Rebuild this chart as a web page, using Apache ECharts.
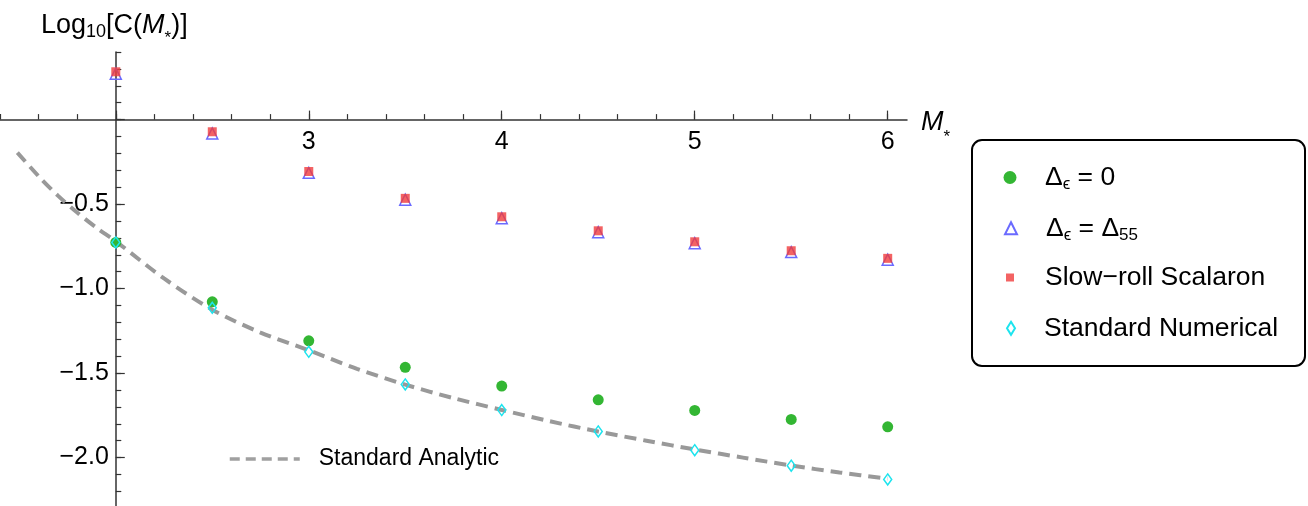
<!DOCTYPE html>
<html><head><meta charset="utf-8">
<script src="https://cdn.jsdelivr.net/npm/echarts@6/dist/echarts.min.js"></script>
<style>html,body{margin:0;padding:0;background:#fff}#c{width:1308px;height:506px}</style>
</head><body><div id="c"></div>
<script>
// ---- data ----
const mValues = [2, 2.5, 3, 3.5, 4, 4.5, 5, 5.5, 6];
const deltaZero = [-0.727, -1.078, -1.309, -1.466, -1.577, -1.658, -1.721, -1.774, -1.818];
const deltaFiftyFive = [0.272, -0.082, -0.315, -0.474, -0.583, -0.666, -0.731, -0.784, -0.829];
const slowRoll = [0.283, -0.072, -0.307, -0.466, -0.575, -0.658, -0.723, -0.776, -0.821];
const standardNumerical = [-0.727, -1.114, -1.374, -1.567, -1.719, -1.845, -1.956, -2.048, -2.129];
const analyticX = [1.49, 1.6, 1.7, 1.8, 1.9, 2.0, 2.25, 2.5, 2.75, 3.0, 3.25, 3.5, 3.75, 4.0, 4.25, 4.5, 4.75, 5.0, 5.25, 5.5, 5.75, 6.0];
const analyticY = [-0.195, -0.335, -0.45, -0.55, -0.64, -0.72, -0.94, -1.125, -1.26, -1.365, -1.475, -1.568, -1.648, -1.718, -1.785, -1.846, -1.90, -1.952, -2.0, -2.047, -2.088, -2.124];
const xTickLabels = [3, 4, 5, 6];
const yTickLabels = [-0.5, -1.0, -1.5, -2.0];
const seriesNames = ['d0', 'd55', 'Slow\u2212roll Scalaron', 'Standard Numerical'];
const analyticName = 'Standard Analytic';

// ---- layout ----
const FONT = '"Liberation Sans", Arial, Helvetica, sans-serif';
const X_MIN = 1.4, X_MAX = 6.1, Y_MIN = -2.3, Y_MAX = 0.4;
const G_LEFT = 0, G_TOP = 52, G_W = 907, G_H = 456.3;
const PXX = G_W / (X_MAX - X_MIN), PXY = G_H / (Y_MAX - Y_MIN);
const AX_X = G_LEFT + (2 - X_MIN) * PXX;   // y-axis crosses at M=2
const AX_Y = G_TOP + Y_MAX * PXY;          // x-axis at 0
const AXC = '#333';
const NB = 'none';

const pairs = (xs, ys) => xs.map((x, i) => [x, ys[i]]);
const fmtY = v => yTickLabels.some(t => Math.abs(t - v) < 1e-6) ? v.toFixed(1).replace('-', '\u2212') : '';
const fmtX = v => xTickLabels.some(t => Math.abs(t - v) < 1e-6) ? String(Math.round(v)) : '';

const legendRich = {
  t: {fontSize: 26.5, fontFamily: FONT, color: '#000', lineHeight: 32},
  s: {fontSize: 17, fontFamily: FONT, color: '#000', lineHeight: 18, padding: [14, 0, 0, 0]}
};
const legendFmt = n => n === 'd0' ? '{t|\u0394}{s|\u03f5}{t| = 0}'
  : n === 'd55' ? '{t|\u0394}{s|\u03f5}{t| = \u0394}{s|55}' : '{t|' + n + '}';
// one legend entry per row: [name, icon width, icon height, icon centre y]
const legendRows = [[seriesNames[0], 13, 13, 177.5], [seriesNames[1], 12, 12, 228.3],
                    [seriesNames[2], 8, 8, 277.5], [seriesNames[3], 8, 13, 328.3]];
const ICON_CX = 1010, TEXT_X = 1045;

const legends = legendRows.map(([name, w, h, cy]) => ({
  data: [name], orient: 'horizontal', padding: 0, selectedMode: false,
  left: ICON_CX - w / 2, top: cy - 16, itemWidth: w, itemHeight: h,
  formatter: legendFmt,
  textStyle: {fontSize: 26.5, fontFamily: FONT, color: '#000', lineHeight: 32,
              padding: [0, 0, 0, TEXT_X - ICON_CX - w / 2 - 5 - (h > 11 && w < 11 ? 2 : 0)], rich: legendRich}
}));
legends.push({data: [analyticName], left: 228, top: 447.5, padding: 0, itemWidth: 70, itemHeight: 14,
  selectedMode: false, itemStyle: {opacity: 0},
  lineStyle: {type: [10, 6], width: 3.5, color: '#a0a0a0'},
  textStyle: {fontSize: 23, fontFamily: FONT, color: '#000', padding: [0, 0, 0, 14]}});

const chart = echarts.init(document.getElementById('c'));
chart.setOption({
  animation: false,
  backgroundColor: '#fff',
  grid: [
    {left: G_LEFT, top: G_TOP, width: G_W, height: G_H, outerBoundsMode: NB},
    {left: AX_X, top: AX_Y, width: 4 * PXX, height: 2.5 * PXY, outerBoundsMode: NB},
    {left: G_LEFT, top: AX_Y, width: (6.0 - X_MIN) * PXX, height: 50, outerBoundsMode: NB},
    {left: AX_X, top: G_TOP, width: 50, height: G_H, outerBoundsMode: NB}
  ],
  xAxis: [
    {gridIndex: 0, type: 'value', min: X_MIN, max: X_MAX,
     axisLine: {onZero: true, lineStyle: {color: AXC, width: 1.5}},
     axisTick: {show: false}, axisLabel: {show: false}, splitLine: {show: false}},
    {gridIndex: 1, type: 'value', position: 'top', min: 2, max: 6, interval: 1,
     axisLine: {show: false, onZero: false},
     axisTick: {inside: false, length: 9, lineStyle: {color: AXC, width: 1.2}},
     axisLabel: {inside: true, margin: 10, fontSize: 25, fontFamily: FONT, color: '#000', formatter: fmtX},
     splitLine: {show: false}},
    {gridIndex: 2, type: 'value', position: 'top', min: X_MIN, max: 6.0, interval: 0.2,
     axisLine: {show: false, onZero: false},
     axisTick: {inside: false, length: 5.5, lineStyle: {color: AXC, width: 1.2}},
     axisLabel: {show: false}, splitLine: {show: false}},
    {gridIndex: 3, type: 'value', show: false, min: 0, max: 1}
  ],
  yAxis: [
    {gridIndex: 0, type: 'value', min: Y_MIN, max: Y_MAX, show: false},
    {gridIndex: 1, type: 'value', min: -2.5, max: 0, interval: 0.5,
     axisLine: {show: false, onZero: false},
     axisTick: {inside: true, length: 9, lineStyle: {color: AXC, width: 1.2}},
     axisLabel: {margin: 7, fontSize: 25, fontFamily: FONT, color: '#000', formatter: fmtY, padding: [4, 0, 0, 0]},
     splitLine: {show: false}},
    {gridIndex: 2, type: 'value', show: false, min: 0, max: 1},
    {gridIndex: 3, type: 'value', min: Y_MIN, max: Y_MAX, interval: 0.1,
     axisLine: {show: true, onZero: false, lineStyle: {color: AXC, width: 1.5}},
     axisTick: {inside: true, length: 5.5, lineStyle: {color: AXC, width: 1.2}},
     axisLabel: {show: false}, splitLine: {show: false}}
  ],
  legend: legends,
  graphic: [
    {type: 'rect', shape: {x: 972, y: 140, width: 333, height: 226, r: 10},
     style: {fill: 'none', stroke: '#000', lineWidth: 2}, z: 10},
    {type: 'text', left: 41, top: 4.7, z: 10,
     style: {text: '{a|Log}{b|10}{a|[C(}{i|M}{c|*}{a|)]}',
       rich: {a: {fontSize: 27, fontFamily: FONT, fill: '#000', lineHeight: 34},
              b: {fontSize: 18, fontFamily: FONT, fill: '#000', lineHeight: 21, padding: [13, 0, 0, 0]},
              i: {fontSize: 27, fontFamily: FONT, fontStyle: 'italic', fill: '#000', lineHeight: 34},
              c: {fontSize: 17, fontFamily: FONT, fill: '#000', lineHeight: 9, padding: [25, 0, 0, 0]}}}},
    {type: 'text', left: 921, top: 99, z: 10,
     style: {text: '{i|M}{c|*}',
       rich: {i: {fontSize: 27, fontFamily: FONT, fontStyle: 'italic', fill: '#000', lineHeight: 40},
              c: {fontSize: 17, fontFamily: FONT, fill: '#000', lineHeight: 10, padding: [30, 0, 0, 0]}}}}
  ],
  series: [
    {type: 'line', name: analyticName, xAxisIndex: 0, yAxisIndex: 0,
     data: pairs(analyticX, analyticY), smooth: 0.3, symbol: 'none', z: 1,
     lineStyle: {color: '#999', width: 4, type: [12, 7]}, itemStyle: {color: '#999'}},
    {type: 'scatter', name: seriesNames[0], xAxisIndex: 0, yAxisIndex: 0, data: pairs(mValues, deltaZero),
     symbol: 'circle', symbolSize: 11, itemStyle: {color: '#33b633', opacity: 1}},
    {type: 'scatter', name: seriesNames[1], xAxisIndex: 0, yAxisIndex: 0, data: pairs(mValues, deltaFiftyFive),
     symbol: 'triangle', symbolSize: 11,
     itemStyle: {color: 'rgba(255,255,255,0)', borderColor: '#6a6aff', borderWidth: 1.5, opacity: 1}},
    {type: 'scatter', name: seriesNames[2], xAxisIndex: 0, yAxisIndex: 0, data: pairs(mValues, slowRoll),
     symbol: 'rect', symbolSize: 9, itemStyle: {color: 'rgba(240,60,60,0.8)', opacity: 1}},
    {type: 'scatter', name: seriesNames[3], xAxisIndex: 0, yAxisIndex: 0, data: pairs(mValues, standardNumerical),
     symbol: 'diamond', symbolSize: [8, 11],
     itemStyle: {color: 'rgba(255,255,255,0)', borderColor: '#1de4ee', borderWidth: 1.5, opacity: 1}}
  ]
});
</script></body></html>
